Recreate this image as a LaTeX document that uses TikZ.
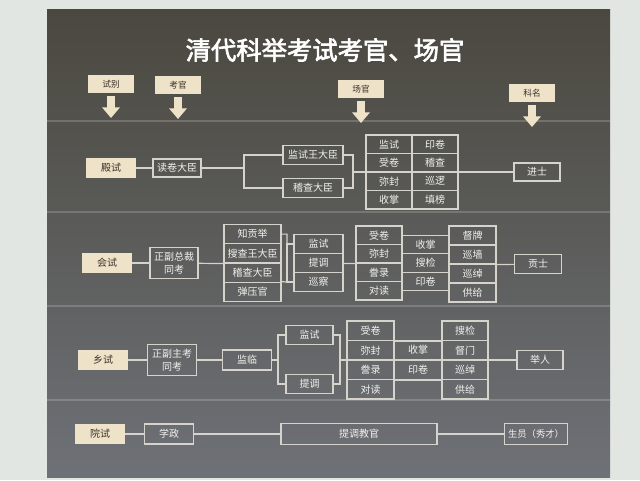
\documentclass[tikz,border=0pt]{standalone}
\usepackage{fontspec}
\setmainfont{Noto Sans CJK SC}
\newfontfamily\biaotiti[FakeBold=2.5]{Noto Sans CJK SC}
\usetikzlibrary{arrows.meta}
\definecolor{qiangse}{RGB}{226,230,227}
\definecolor{bandingse}{RGB}{74,72,63}
\definecolor{bandise}{RGB}{110,113,119}
\definecolor{mise}{RGB}{238,227,201}
\definecolor{xianse}{RGB}{214,211,204}
\definecolor{zise}{RGB}{242,242,238}
\definecolor{mozi}{RGB}{58,48,40}

\begin{document}
\begin{tikzpicture}[x=0.75pt, y=-0.75pt,
  biaotou/.style={fill=mise, text=mozi, inner sep=0pt, minimum height=13.5pt, minimum width=34pt, font=\fontsize{6.5}{8}\selectfont},
  shibie/.style={fill=mise, text=mozi, inner sep=0pt, minimum height=15pt, minimum width=37pt, font=\fontsize{7.5}{9}\selectfont},
  guan/.style={draw=xianse, line width=0.9pt, text=zise, inner sep=0pt, minimum height=14pt, align=center, font=\fontsize{7.5}{10}\selectfont},
  zi/.style={text=zise, inner sep=0pt, font=\fontsize{7.5}{9}\selectfont},
  lian/.style={draw=xianse, line width=0.9pt},
  jiantou/.style={draw=mise, line width=6pt, -{Triangle[width=13pt,length=8pt]}},
  fenge/.style={draw=white, opacity=0.18, line width=1.5pt}
]

\useasboundingbox (0,0) rectangle (640,480);
\fill[qiangse] (0,0) rectangle (640,480);
\shade[top color=bandingse, bottom color=bandise] (47,9) rectangle (610,477);
\foreach \y in {121,212,306,400}{
    \draw[fenge] (47,\y) -- (610,\y);
}

\node[text=white, font=\biaotiti\fontsize{19}{20}\selectfont] (biaoti) at (325,50) {清代科举考试考官、场官};

\node[biaotou] (shibie) at (111,84) {试别};
\node[biaotou] (kaoguan) at (178,85) {考官};
\node[biaotou] (changguan) at (361,89) {场官};
\node[biaotou] (keming) at (532,93) {科名};
\coordinate (d1) at (111,118);
\coordinate (d2) at (178,119);
\coordinate (d3) at (361,123);
\coordinate (d4) at (532,127);
\draw[jiantou] ([yshift=-2pt]shibie.south) -- (d1);
\draw[jiantou] ([yshift=-2pt]kaoguan.south) -- (d2);
\draw[jiantou] ([yshift=-2pt]changguan.south) -- (d3);
\draw[jiantou] ([yshift=-2pt]keming.south) -- (d4);

\node[shibie] (dianshi) at (111,168) {殿试};
\node[guan, minimum width=36pt, minimum height=13.5pt] (dujuan) at (177,168) {读卷大臣};
\node[guan, minimum width=45pt] (jianshiwang) at (313,155) {监试王大臣};
\node[guan, minimum width=45pt] (jicha) at (313,188) {稽查大臣};
\coordinate (z1) at (244,168);
\coordinate (z2) at (353,172);
\draw[lian] (dianshi) -- (dujuan);
\draw[lian] (dujuan) -- (z1);
\draw[lian] (jianshiwang) -| (z1) |- (jicha);
\draw[lian] (jianshiwang) -| (z2) |- (jicha);
\foreach \zuo/\you [count=\i] in {监试/印卷,受卷/稽查,弥封/巡逻,收掌/填榜}{
    \node[guan, minimum width=34.5pt, minimum height=13.9pt] (dz\i) at (389,125.75+18.5*\i) {\zuo};
    \node[guan, minimum width=34.5pt, minimum height=13.9pt] (dy\i) at (435,125.75+18.5*\i) {\you};
}
\node[guan, minimum width=34.5pt, minimum height=13.5pt] (jinshi) at (537,172) {进士};
\draw[lian] (z2) -- (jinshi);

\node[shibie] (huishi) at (107,263) {会试};
\node[guan, minimum width=36pt, minimum height=23pt] (zongcai) at (174,263) {正副总裁\\同考};
\draw[lian] (huishi) -- (zongcai);
\foreach \ming [count=\i] in {知贡举,搜查王大臣,稽查大臣,弹压官}{
    \node[guan, minimum width=42.75pt, minimum height=14.4pt] (hz\i) at (252.5,214.875+19.25*\i) {\ming};
}
\draw[lian] (zongcai) -- (hz2.south west);
\coordinate (z3) at (287,282);
\foreach \ming [count=\i] in {监试,提调,巡察}{
    \node[guan, minimum width=36.75pt, minimum height=14.25pt] (hj\i) at (318.5,225+19*\i) {\ming};
}
\draw[lian] (hz1) -| (z3) -- (hz4.north east);
\draw[lian] (hj1) -| (z3) -- (hj3);
\foreach \zuo/\you [count=\i] in {受卷/督牌,弥封/巡墙,誊录/巡绰,对读/供给}{
    \node[guan, minimum width=34.5pt, minimum height=13.9pt] (hs\i) at (379,216.75+18.5*\i) {\zuo};
    \node[guan, minimum width=35.25pt, minimum height=14.25pt] (hr\i) at (472.5,216.5+19*\i) {\you};
}
\draw[lian] (hj2) -- (hs2.south west);
\foreach \i in {1,...,4}{
    \draw[lian] (hs\i.east) -- (hs\i.east -| hr\i.west);
}
\foreach \ming/\yy [count=\i] in {收掌/244.5,搜检/263,印卷/281.5}{
    \node[zi] (hm\i) at (425.5,\yy) {\ming};
}
\node[guan, minimum width=35.25pt, minimum height=14.25pt] (gongshi) at (538,264) {贡士};
\draw[lian] (hr2.south east) -- (gongshi);

\node[shibie] (xiangshi) at (103,360) {乡试};
\node[guan, minimum width=36.75pt, minimum height=23pt] (zhukao) at (172,360) {正副主考\\同考};
\node[guan, minimum width=36.75pt, minimum height=15pt] (jianlin) at (247,360) {监临};
\draw[lian] (xiangshi) -- (zhukao);
\draw[lian] (zhukao) -- (jianlin);
\node[guan, minimum width=35.25pt, minimum height=14.25pt] (xj1) at (309.5,335) {监试};
\node[guan, minimum width=35.25pt, minimum height=14.25pt] (xj2) at (309.5,384) {提调};
\coordinate (z4) at (278,360);
\coordinate (z5) at (340,360);
\draw[lian] (jianlin) -- (z4);
\draw[lian] (xj1) -| (z4) |- (xj2);
\draw[lian] (xj1) -| (z5) |- (xj2);
\foreach \zuo/\you [count=\i] in {受卷/搜检,弥封/督门,誊录/巡绰,对读/供给}{
    \node[guan, minimum width=35.25pt, minimum height=14.6pt] (xs\i) at (370.5,311.25+19.5*\i) {\zuo};
    \node[guan, minimum width=34.5pt, minimum height=14.6pt] (xr\i) at (465,311.25+19.5*\i) {\you};
}
\draw[lian] (xs1.south east) -- (xr1.south west);
\draw[lian] (xs3.south east) -- (xr3.south west);
\node[zi] (xm1) at (418,350) {收掌};
\node[zi] (xm2) at (418,370) {印卷};
\node[guan, minimum width=34.5pt, minimum height=14.25pt] (juren) at (540,360) {举人};
\draw[lian] (z5) -- (juren);

\node[shibie] (yuanshi) at (100,434) {院试};
\node[guan, minimum width=36.75pt, minimum height=15pt] (xuezheng) at (169,434) {学政};
\node[guan, minimum width=117pt, minimum height=15.75pt] (tidiao) at (359,434) {提调教官};
\node[guan, minimum width=47pt, minimum height=15.75pt, font=\fontsize{7}{9}\selectfont] (shengyuan) at (536,434) {生员（秀才）};
\draw[lian] (yuanshi) -- (xuezheng);
\draw[lian] (xuezheng) -- (tidiao);
\draw[lian] (tidiao) -- (shengyuan);

\end{tikzpicture}
\end{document}
